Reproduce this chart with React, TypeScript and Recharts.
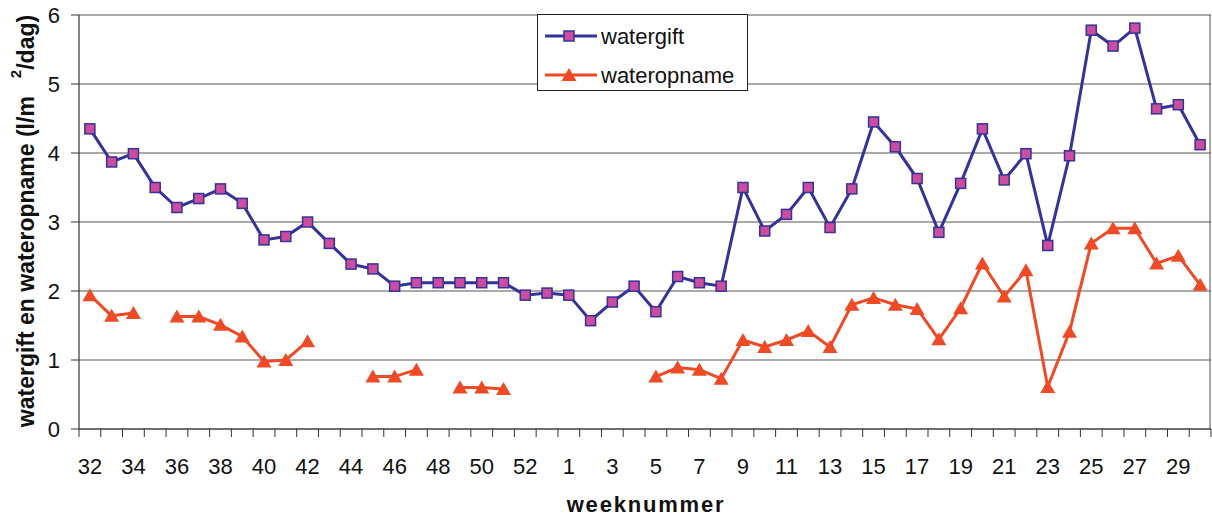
import { LineChart, Line, XAxis, YAxis, CartesianGrid, Legend } from 'recharts';

const weeks = [
  '32', '33', '34', '35', '36', '37', '38', '39', '40', '41', '42', '43', '44', '45', '46', '47',
  '48', '49', '50', '51', '52', '53', '1', '2', '3', '4', '5', '6', '7', '8', '9', '10', '11',
  '12', '13', '14', '15', '16', '17', '18', '19', '20', '21', '22', '23', '24', '25', '26', '27',
  '28', '29', '30',
];

const watergift = [
  4.35, 3.87, 3.99, 3.5, 3.21, 3.34, 3.48, 3.27, 2.74, 2.79, 3.0, 2.69, 2.39, 2.32, 2.07, 2.12,
  2.12, 2.12, 2.12, 2.12, 1.94, 1.97, 1.94, 1.57, 1.84, 2.07, 1.7, 2.21, 2.12, 2.07, 3.5, 2.87,
  3.11, 3.5, 2.92, 3.48, 4.45, 4.09, 3.63, 2.85, 3.56, 4.35, 3.61, 3.99, 2.66, 3.96, 5.78, 5.55,
  5.81, 4.64, 4.7, 4.12,
];

const wateropname = [
  1.94, 1.64, 1.68, null, 1.63, 1.63, 1.51, 1.34, 0.98, 1.0, 1.27, null, null, 0.76, 0.76, 0.86,
  null, 0.6, 0.6, 0.58, null, null, null, null, null, null, 0.76, 0.89, 0.86, 0.73, 1.29, 1.19,
  1.29, 1.42, 1.19, 1.8, 1.9, 1.8, 1.74, 1.3, 1.75, 2.4, 1.92, 2.3, 0.61, 1.41, 2.69, 2.91, 2.91,
  2.4, 2.51, 2.09,
];

const yTicks = [0, 1, 2, 3, 4, 5, 6];

const data = weeks.map((week, i) => ({
  week,
  watergift: watergift[i],
  wateropname: wateropname[i],
}));

const BLUE = '#333399';
const PINK = '#CC4C9F';
const ORANGE = '#EE4A26';
const FONT = '"Liberation Sans", Arial, sans-serif';

const W = 1212;
const H = 519;
const PLOT_LEFT = 79;
const PLOT_RIGHT = 1211;
const STEP = (PLOT_RIGHT - PLOT_LEFT) / weeks.length;

function SquareDot(props: any) {
  const { cx, cy, index } = props;
  if (cx == null || cy == null) return <g key={`s-${index}`} />;
  return (
    <rect
      key={`s-${index}`}
      x={cx - 5}
      y={cy - 5}
      width={10}
      height={10}
      fill={PINK}
      stroke={BLUE}
      strokeWidth={1.5}
    />
  );
}

function TriangleDot(props: any) {
  const { cx, cy, index, value } = props;
  if (cx == null || cy == null || value == null) return <g key={`t-${index}`} />;
  return (
    <polygon
      key={`t-${index}`}
      points={`${cx},${cy - 7} ${cx + 7.5},${cy + 6} ${cx - 7.5},${cy + 6}`}
      fill={ORANGE}
    />
  );
}

function WeekTick(props: any) {
  const { x, y, payload, index } = props;
  const last = index === weeks.length - 1;
  return (
    <g>
      <line x1={x - STEP / 2} x2={x - STEP / 2} y1={y} y2={y + 8} stroke="#333" strokeWidth={1} />
      {last && <line x1={x + STEP / 2} x2={x + STEP / 2} y1={y} y2={y + 8} stroke="#333" />}
      {index % 2 === 0 && (
        <text x={x} y={y + 45} textAnchor="middle" fontSize={22} fontFamily={FONT} fill="#111">
          {payload.value}
        </text>
      )}
    </g>
  );
}

function LegendBox() {
  return (
    <svg width={212} height={78}>
      <rect x={0.5} y={0.5} width={210} height={76} fill="#fff" stroke="#222" strokeWidth={1} />
      <line x1={8} x2={60} y1={22} y2={22} stroke={BLUE} strokeWidth={3} />
      <rect x={27} y={17} width={10} height={10} fill={PINK} stroke={BLUE} strokeWidth={1.5} />
      <text x={64} y={30} fontSize={22} fontFamily={FONT} fill="#111">
        watergift
      </text>
      <line x1={8} x2={60} y1={61} y2={61} stroke={ORANGE} strokeWidth={3} />
      <polygon points="32,54 39.5,67 24.5,67" fill={ORANGE} />
      <text x={64} y={69} fontSize={22} fontFamily={FONT} fill="#111">
        wateropname
      </text>
    </svg>
  );
}

function YLabel() {
  return (
    <text
      transform="translate(34, 221) rotate(-90)"
      textAnchor="middle"
      fontSize={23}
      fontWeight="bold"
      fontFamily={FONT}
      fill="#111"
    >
      <tspan>watergift en wateropname (l/m</tspan>
      <tspan dx={18} dy={-13} fontSize={15}>2</tspan>
      <tspan dy={13}>/dag)</tspan>
    </text>
  );
}

function XLabel() {
  return (
    <text
      x={646}
      y={512}
      textAnchor="middle"
      fontSize={22}
      fontWeight="bold"
      fontFamily={FONT}
      letterSpacing={1.8}
      fill="#111"
    >
      weeknummer
    </text>
  );
}

export default function App() {
  return (
    <div style={{ position: 'absolute', left: 0, top: 0, width: W, height: H, background: '#fff' }}>
      <LineChart width={W} height={H} data={data} margin={{ top: 15, right: 1, left: 0, bottom: 0 }}>
        <CartesianGrid
          stroke="#555"
          strokeWidth={1}
          horizontal
          vertical
          verticalPoints={[1210]}
        />
        <XAxis
          dataKey="week"
          height={90}
          interval={0}
          padding={{ left: STEP / 2, right: STEP / 2 }}
          tickSize={0}
          tickMargin={0}
          tickLine={false}
          axisLine={{ stroke: '#333', strokeWidth: 1.2 }}
          tick={<WeekTick />}
          label={<XLabel />}
        />
        <YAxis
          domain={[0, 6]}
          ticks={yTicks}
          width={79}
          tickSize={8}
          tickMargin={11}
          axisLine={{ stroke: '#333', strokeWidth: 1.2 }}
          tickLine={{ stroke: '#333' }}
          tick={{ fontSize: 22, fontFamily: FONT, fill: '#111' }}
          label={<YLabel />}
        />
        <Legend
          layout="vertical"
          align="center"
          verticalAlign="middle"
          content={() => <LegendBox />}
          wrapperStyle={{ left: 537, top: 14, width: 212, height: 78 }}
        />
        <Line
          dataKey="watergift"
          stroke={BLUE}
          strokeWidth={3}
          dot={SquareDot}
          activeDot={false}
          isAnimationActive={false}
        />
        <Line
          dataKey="wateropname"
          stroke={ORANGE}
          strokeWidth={3}
          dot={TriangleDot}
          activeDot={false}
          isAnimationActive={false}
        />
      </LineChart>
    </div>
  );
}
